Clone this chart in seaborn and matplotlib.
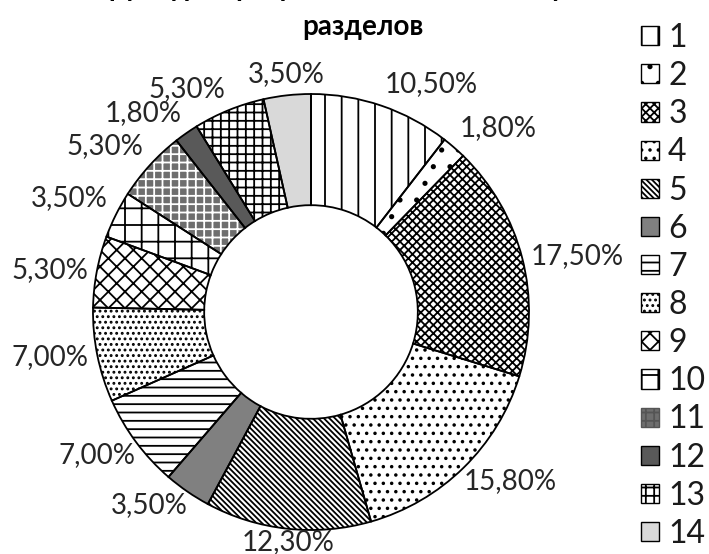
import matplotlib
matplotlib.use("Agg")
import matplotlib.pyplot as plt
import seaborn as sns
import numpy as np
from matplotlib.patches import Patch

categories = ["1", "2", "3", "4", "5", "6", "7", "8", "9", "10", "11", "12", "13", "14"]
values = [10.5, 1.8, 17.5, 15.8, 12.3, 3.5, 7.0, 7.0, 5.3, 3.5, 5.3, 1.8, 5.3, 3.5]
title_lines = ["Структура программы по количеству часов", "разделов"]

faces = ["white", "white", "white", "white", "white", "#808080", "white", "white",
         "white", "white", "#6e6e6e", "#595959", "white", "#d9d9d9"]
hatches = ["|", ".", "xxxx", "..", "\\" * 6, "", "--", "...", "xx", "+", "++", "", "++", ""]
hatch_cols = ["black"] * 10 + ["white", "black", "black", "black"]

sns.set_theme(style="white")
plt.rcParams["font.family"] = ["Lato", "DejaVu Sans"]
plt.rcParams["hatch.linewidth"] = 1.3

fig = plt.figure(figsize=(7.09, 5.54), dpi=100)
R = 218
cx, cy = 311, 554 - 312
ax = fig.add_axes([(cx - R) / 709, (cy - R) / 554, 2 * R / 709, 2 * R / 554])

labels = [f"{v:.2f}%".replace(".", ",") for v in values]

wedges, _ = ax.pie(values, startangle=90, counterclock=False, colors=faces,
                   wedgeprops=dict(width=0.51, linewidth=0))
for w, h, hc in zip(wedges, hatches, hatch_cols):
    w.set_hatch(h)
    w.set_edgecolor(hc)

outline, _ = ax.pie(values, startangle=90, counterclock=False, colors=["none"] * len(values),
                    wedgeprops=dict(width=0.51, linewidth=1.3, edgecolor="black", fill=False))

# data labels just outside the ring
for w, lab in zip(outline, labels):
    ang = np.deg2rad((w.theta1 + w.theta2) / 2)
    c, s = np.cos(ang), np.sin(ang)
    ha = "left" if c > 0.3 else ("right" if c < -0.3 else "center")
    va = "bottom" if s > 0.3 else ("top" if s < -0.3 else "center")
    d = 1.0 if s < -0.3 else 1.04
    ax.text(d * c, d * s, lab, ha=ha, va=va, fontsize=20, color="#262626",
            clip_on=False)

ax.set_xlim(-1, 1)
ax.set_ylim(-1, 1)
ax.set_aspect("equal")
ax.axis("off")

handles = [Patch(facecolor=f, hatch=h, edgecolor=("#555555" if hc == "white" else "black"),
                 linewidth=1.0)
           for f, h, hc in zip(faces, hatches, hatch_cols)]
leg = fig.legend(handles, categories, loc="upper left",
                 bbox_to_anchor=(641 / 709, 1 - 23 / 554), frameon=False,
                 prop=dict(family=["Lato", "DejaVu Sans"], weight="normal", size=23),
                 handlelength=0.55, handleheight=0.55, handletextpad=0.3, labelspacing=0.255,
                 borderpad=0, borderaxespad=0)
for t in leg.get_texts():
    t.set_color("#1a1a1a")

fig.text(360 / 709, 1 + 4 / 554, title_lines[0], ha="center", va="baseline",
         fontsize=20, fontweight="bold", color="black")
fig.text(363 / 709, 1 - 35 / 554, title_lines[1], ha="center", va="baseline",
         fontsize=20, fontweight="bold", color="black")

fig.savefig("out.png", dpi=100)
